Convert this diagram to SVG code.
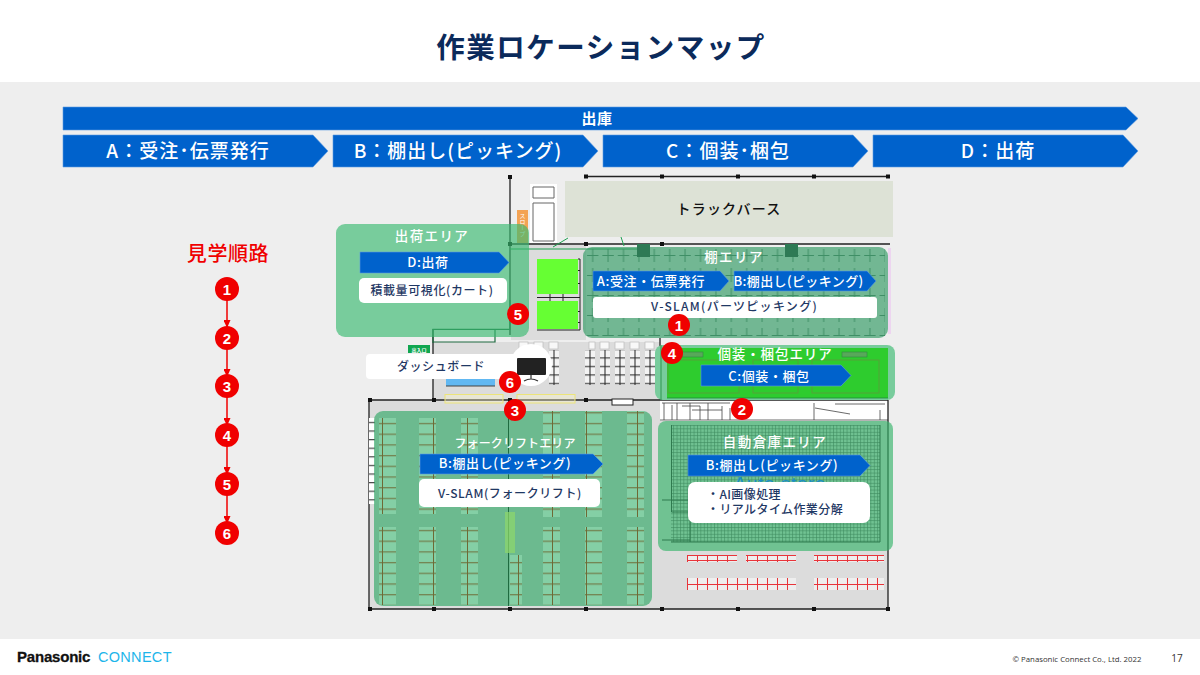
<svg xmlns="http://www.w3.org/2000/svg" width="1200" height="675" viewBox="0 0 1200 675">
<style>
text{font-family:"Noto Sans CJK JP","Noto Sans",sans-serif;text-anchor:middle}
.arrow{fill:#0062cc;stroke:#5d9be0;stroke-width:.6}
.h1{fill:#fff;font-size:19px;font-weight:500;letter-spacing:1px}
.h2{fill:#fff;font-size:13px;font-weight:500;letter-spacing:.6px}
.area{fill:#fff;font-size:13.5px;font-weight:500;letter-spacing:1.4px}
.note{fill:#1f3864;font-size:12px;font-weight:500;letter-spacing:.6px}
.card{fill:#fff}
.panel{fill:#39ba70;fill-opacity:.65}
.wall{fill:none;stroke:#222;stroke-width:1.3}
.post{fill:#111}
.badge{fill:#f00000}
.bnum{fill:#fff;font-family:"Liberation Sans",sans-serif;font-size:15px;font-weight:700}
.route{stroke:#f00000;stroke-width:1.5;fill:none;marker-end:url(#tip)}
</style>
<defs>
<marker id="tip" markerWidth="8" markerHeight="7" refX="7" refY="3.5" orient="auto" markerUnits="userSpaceOnUse"><path d="M0 0L8 3.5L0 7Z" fill="#f00000"/></marker>
<pattern id="rung" width="17" height="10.7" patternUnits="userSpaceOnUse" y="418"><rect width="17" height="10.7" fill="#84cfa5"/><path d="M0 5.500H17M8.500 0V10.700" stroke="#6e6a35" stroke-width="1"/></pattern>
<pattern id="cross" width="15.4" height="20" patternUnits="userSpaceOnUse" x="585" y="245"><path d="M2 10.500H13.400M7.700 3V17" stroke="#3f8f66" stroke-width="1"/></pattern>
<pattern id="mesh" width="3.4" height="3.4" patternUnits="userSpaceOnUse"><path d="M0 .5H3.400M.5 0V3.400" stroke="#3d8a5e" stroke-width=".6"/></pattern>
<pattern id="rack" width="10" height="8.5" patternUnits="userSpaceOnUse" y="345"><rect width="10" height="8.5" fill="#f4f4f4"/><path d="M0 4.500H10" stroke="#222" stroke-width="1"/></pattern>
<pattern id="whiterack" width="6" height="8.6" patternUnits="userSpaceOnUse" y="418"><rect width="6" height="8.6" fill="#fff"/><path d="M0 4.500H6" stroke="#222" stroke-width="1"/></pattern>
<pattern id="redrack" width="10" height="12" patternUnits="userSpaceOnUse" x="687" y="578"><rect width="10" height="12" fill="#eeeeee"/><path d="M.5 0V12M0 6.500H10" stroke="#e8343a" stroke-width="1"/></pattern>
</defs>

<!-- page -->
<rect width="1200" height="675" fill="#fff"/>
<rect y="82" width="1200" height="557" fill="#eeeeee"/>
<text x="601" y="58" font-size="28.500" font-weight="700" fill="#0b2a5b" letter-spacing="1.500">作業ロケーションマップ</text>

<!-- process banners -->
<g id="banner-outbound"><path class="arrow" d="M63 107H1126L1138 118.500L1126 130H63Z"/><text class="h2" x="597" y="124" style="font-size:15px;font-weight:700">出庫</text></g>
<g id="banner-a"><path class="arrow" d="M63 135H313L328 151L313 167H63Z"/><text class="h1" x="188" y="158">A：受注･伝票発行</text></g>
<g id="banner-b"><path class="arrow" d="M333 135H583L598 151L583 167H333Z"/><text class="h1" x="458" y="158">B：棚出し(ピッキング)</text></g>
<g id="banner-c"><path class="arrow" d="M603 135H853L868 151L853 167H603Z"/><text class="h1" x="728" y="158">C：個装･梱包</text></g>
<g id="banner-d"><path class="arrow" d="M873 135H1123L1138 151L1123 167H873Z"/><text class="h1" x="998" y="158">D：出荷</text></g>

<!-- floor plan base -->
<g id="floor">
<rect x="511" y="245" width="75" height="95" fill="#dcdcdc"/>
<rect x="433" y="342" width="227" height="58" fill="#dcdcdc"/>
<rect x="369" y="400" width="519" height="209" fill="#dcdcdc"/>
<rect x="660" y="400" width="228" height="21" fill="#fff"/>
<path d="M662 403H730M664 403V420M672 405V420M677 403V420M682 406H700V420M690 403V420M692 410H722M708 403V420M722 406V420M730 408V420M815 408L850 414M835 404H885M814 403V420M880 410V420M660 420H888" fill="none" stroke="#444" stroke-width=".8"/>
<rect x="565" y="181" width="328" height="56" fill="#dde2d6"/>
<rect x="530" y="184" width="27" height="59" fill="#fff"/>
<path d="M533 187H554V198H533ZM533 203H554V241H533Z" fill="#fff" stroke="#666" stroke-width="1"/>
<rect x="517" y="210" width="11" height="33" fill="#f3a354"/>
<text x="522.500" y="213" style="writing-mode:vertical-rl;font-size:6px;text-anchor:start" fill="#fff">スロープ</text>
<path class="wall" d="M510 177V335M586 176.500H890M510 244H890M433 329V399M369 400V609H888V400M369 400H660M660 400H888M660 338V400"/>
<path d="M433 343V329.300H510V300M433 342H495V329" fill="none" stroke="#1f6b40" stroke-width="1.200"/>
<path d="M510 249H640M568 238L553 247M621 237L624 246" stroke="#1fa050" stroke-width="1" fill="none"/>
<g class="post"><rect x="508" y="175" width="4" height="4"/><rect x="584" y="174.500" width="4" height="4"/><rect x="660" y="174.500" width="4" height="4"/><rect x="736" y="174.500" width="4" height="4"/><rect x="812" y="174.500" width="4" height="4"/><rect x="886" y="174.500" width="4" height="4"/><rect x="508" y="242" width="4" height="4"/><rect x="584" y="242" width="4" height="4"/><rect x="660" y="242" width="4" height="4"/><rect x="368" y="398" width="4" height="4"/><rect x="432" y="398" width="4" height="4"/><rect x="508" y="398" width="4" height="4"/><rect x="584" y="398" width="4" height="4"/><rect x="368" y="607" width="4" height="4"/><rect x="432" y="607" width="4" height="4"/><rect x="508" y="607" width="4" height="4"/><rect x="584" y="607" width="4" height="4"/><rect x="660" y="607" width="4" height="4"/><rect x="736" y="607" width="4" height="4"/><rect x="812" y="607" width="4" height="4"/><rect x="886" y="607" width="4" height="4"/></g>
<rect x="537" y="259" width="41" height="35" fill="#66ff33"/><rect x="537" y="301" width="41" height="28" fill="#66ff33"/>
<path d="M578 259H580V330H537M537 297.500H580M578 270.500H580M578 283.500H580M578 311.500H580M578 322.500H580M550 294V301M563 294V301" fill="none" stroke="#222" stroke-width="1"/>
<rect x="408" y="345" width="22" height="8" fill="#10a650"/><text x="419" y="351.500" style="font-size:5px" fill="#fff" font-weight="700">出入口</text>
<rect x="446" y="378" width="49" height="8" fill="#61b8f2"/><path d="M446 386H495" stroke="#444"/>
<g fill="#fff8c8" fill-opacity=".35" stroke="#ece47a" stroke-width="1"><rect x="445" y="394.500" width="58" height="8.500"/><rect x="517" y="394.500" width="58" height="8.500"/></g>
<rect x="612" y="399" width="21" height="6" fill="#fff" stroke="#222"/>
<g id="racks">
<rect x="549" y="350" width="10" height="35" fill="url(#rack)"/><rect x="585" y="350" width="10" height="35" fill="url(#rack)"/><rect x="600" y="350" width="10" height="35" fill="url(#rack)"/><rect x="615" y="350" width="10" height="35" fill="url(#rack)"/><rect x="630" y="350" width="10" height="35" fill="url(#rack)"/><rect x="645" y="350" width="10" height="35" fill="url(#rack)"/>
<path d="M554 350V385M590 350V385M605 350V385M620 350V385M635 350V385M650 350V385" stroke="#222"/>
<g fill="#f8f8f8" stroke="#bbb" stroke-width=".7"><rect x="519" y="342" width="9" height="7"/><rect x="534" y="342" width="9" height="7"/><rect x="549" y="342" width="9" height="7"/><rect x="589" y="342" width="6" height="7"/><rect x="600" y="342" width="9" height="7"/><rect x="615" y="342" width="9" height="7"/><rect x="630" y="342" width="9" height="7"/><rect x="645" y="342" width="9" height="7"/></g>
</g>
<g id="red-racks">
<rect x="687" y="555" width="50" height="7" fill="url(#redrack)"/><rect x="746" y="555" width="50" height="7" fill="url(#redrack)"/><rect x="814" y="555" width="70" height="7" fill="url(#redrack)"/>
<rect x="687" y="578" width="109" height="12" fill="url(#redrack)"/><rect x="814" y="578" width="70" height="12" fill="url(#redrack)"/>
<path d="M687 555.500H737M746 555.500H796M814 555.500H884" stroke="#e8343a"/>
</g>
<rect x="369" y="418" width="6" height="86" fill="url(#whiterack)"/>
</g>

<!-- work areas -->
<g id="area-shipping">
<rect class="panel" x="336" y="224" width="193" height="113" rx="9"/>
<path class="arrow" d="M360 252H499L509 262.500L499 273H360Z"/>
<text class="area" x="432" y="241">出荷エリア</text>
<text class="h2" x="428" y="267">D:出荷</text>
<rect class="card" x="359" y="278" width="148" height="25" rx="5"/>
<text class="note" x="432" y="295">積載量可視化(カート)</text>
</g>
<g id="area-shelves">
<rect x="888" y="248" width="3" height="86" fill="#edd5f0"/>
<rect class="panel" x="583" y="247" width="305" height="91" rx="9" style="fill:#2f9a62"/>
<rect x="586" y="249" width="299" height="87" fill="url(#cross)"/>
<rect x="637" y="244" width="13" height="13" fill="#2e7a55"/><rect x="785" y="244" width="13" height="13" fill="#2e7a55"/>
<text class="area" x="734" y="262">棚エリア</text>
<path class="arrow" d="M593 271H720L729 281L720 291H593Z"/>
<text class="h2" x="651" y="286">A:受注・伝票発行</text>
<path class="arrow" d="M734 271H867L876 281L867 291H734Z"/>
<text class="h2" x="798.500" y="286" style="letter-spacing:.4px">B:棚出し(ピッキング)</text>
<rect class="card" x="593" y="297" width="284" height="21" rx="3"/>
<text class="note" x="734.500" y="311" style="letter-spacing:1.300px">V-SLAM(パーツピッキング)</text>
</g>
<g id="area-packing">
<rect x="655" y="345" width="240" height="55" rx="8" fill="#78cc9c"/>
<rect x="667" y="348" width="221" height="50" fill="#2ecc2e"/>
<path d="M667 398H888M661 345V400" stroke="#1d8a3a" stroke-width=".8" fill="none"/>
<g fill="none" stroke="#5f9a3c" stroke-width=".8"><rect x="668" y="360" width="71" height="33"/><rect x="753" y="360" width="45" height="33"/><rect x="812" y="360" width="67" height="33"/></g>
<g fill="#58a85a" stroke="#2f8a3e" stroke-width=".6"><rect x="682" y="352" width="21" height="5"/><rect x="842" y="352" width="25" height="5"/></g>
<text class="area" x="775" y="359" style="letter-spacing:.9px">個装・梱包エリア</text>
<path class="arrow" d="M701 365H841L851 375.500L841 386H701Z"/>
<text class="h2" x="769" y="381">C:個装・梱包</text>
</g>
<g id="area-autostore">
<rect class="panel" x="658" y="421" width="235" height="130" rx="8" style="fill:#35b46a"/>
<rect x="671" y="425" width="209" height="117" fill="url(#mesh)"/>
<path d="M671.500 425V512H690V542M880 425V542H671M662 500H690M662 540H690" fill="none" stroke="#2f7a4f" stroke-width="1"/>
<text class="area" x="775" y="447">自動倉庫エリア</text>
<text x="780" y="490" font-size="19" font-weight="500" fill="#1c8fc4" style="font-family:'Liberation Sans',sans-serif" letter-spacing=".6">Auto store</text>
<path class="arrow" d="M688 455H860L870 465.500L860 476H688Z"/>
<text class="h2" x="772" y="470">B:棚出し(ピッキング)</text>
<rect class="card" x="688" y="482" width="182" height="41" rx="7"/>
<text class="note" x="707" y="499" style="text-anchor:start;letter-spacing:.4px">・AI画像処理</text>
<text class="note" x="707" y="514" style="text-anchor:start;letter-spacing:.4px">・リアルタイム作業分解</text>
</g>
<g id="area-forklift">
<rect class="panel" x="374" y="411" width="278" height="195" rx="9" style="fill:#30a866"/>
<g fill="url(#rung)">
<rect x="379" y="418" width="17" height="96"/><rect x="419" y="418" width="17" height="96"/><rect x="461" y="418" width="17" height="96"/><rect x="543" y="411" width="17" height="106"/><rect x="585" y="411" width="17" height="106"/><rect x="627" y="411" width="17" height="106"/>
<rect x="379" y="527" width="17" height="78"/><rect x="419" y="527" width="17" height="78"/><rect x="461" y="527" width="17" height="78"/><rect x="510" y="555" width="12" height="50"/><rect x="543" y="527" width="17" height="78"/><rect x="585" y="527" width="17" height="78"/><rect x="627" y="527" width="17" height="78"/>
</g>
<path d="M508.500 411V606" stroke="#1f6b40" stroke-width="1"/>
<rect x="505" y="512" width="10" height="41" fill="#8ed86a" fill-opacity=".7"/>
<text class="area" x="515" y="448" style="font-size:12px;letter-spacing:.1px">フォークリフトエリア</text>
<path class="arrow" d="M420 454H593L603 464L593 474H420Z"/>
<text class="h2" x="505" y="468">B:棚出し(ピッキング)</text>
<rect class="card" x="419" y="479" width="181" height="28" rx="5"/>
<text class="note" x="510" y="498">V-SLAM(フォークリフト)</text>
</g>
<g id="truck-berth"><text x="729" y="214" font-size="14" font-weight="500" fill="#111" letter-spacing="1.200">トラックバース</text></g>
<g id="dashboard">
<rect class="card" x="366" y="354" width="160" height="25" rx="4"/>
<text class="note" x="441" y="371">ダッシュボード</text>
<circle cx="531" cy="365" r="21" fill="#fff"/>
<rect x="517" y="358" width="29" height="17" rx="1" fill="#222"/>
<path d="M531 375V379M524 381Q531 377 538 381" stroke="#333" stroke-width="1.200" fill="none"/>
</g>

<!-- numbered stops on the plan -->
<g id="stop-1"><circle class="badge" cx="679" cy="325" r="11"/><text class="bnum" x="679" y="330.500">1</text></g>
<g id="stop-2"><circle class="badge" cx="742" cy="409" r="11"/><text class="bnum" x="742" y="414.500">2</text></g>
<g id="stop-3"><circle class="badge" cx="515" cy="410" r="11"/><text class="bnum" x="515" y="415.500">3</text></g>
<g id="stop-4"><circle class="badge" cx="672" cy="353" r="11"/><text class="bnum" x="672" y="358.500">4</text></g>
<g id="stop-5"><circle class="badge" cx="518" cy="314" r="11"/><text class="bnum" x="518" y="319.500">5</text></g>
<g id="stop-6"><circle class="badge" cx="510" cy="382" r="11"/><text class="bnum" x="510" y="387.500">6</text></g>

<!-- tour order legend -->
<text x="228" y="261" font-size="20" font-weight="500" fill="#f00000" letter-spacing=".6">見学順路</text>
<g id="connectors">
<path class="route" d="M227 299V327"/><path class="route" d="M227 348V376"/><path class="route" d="M227 396V425"/><path class="route" d="M227 445V474"/><path class="route" d="M227 494V523"/>
</g>
<g id="order-1"><circle class="badge" cx="227" cy="289" r="12"/><text class="bnum" x="227" y="294.500">1</text></g>
<g id="order-2"><circle class="badge" cx="227" cy="338" r="12"/><text class="bnum" x="227" y="343.500">2</text></g>
<g id="order-3"><circle class="badge" cx="227" cy="386" r="12"/><text class="bnum" x="227" y="391.500">3</text></g>
<g id="order-4"><circle class="badge" cx="227" cy="435" r="12"/><text class="bnum" x="227" y="440.500">4</text></g>
<g id="order-5"><circle class="badge" cx="227" cy="484" r="12"/><text class="bnum" x="227" y="489.500">5</text></g>
<g id="order-6"><circle class="badge" cx="227" cy="533" r="12"/><text class="bnum" x="227" y="538.500">6</text></g>

<!-- footer -->
<text x="17" y="662" style="text-anchor:start;font-family:'Liberation Sans',sans-serif;font-size:15px;font-weight:700;letter-spacing:-.2px" fill="#111" stroke="#111" stroke-width=".3">Panasonic</text>
<text x="98" y="662" style="text-anchor:start;font-family:'Liberation Sans',sans-serif;font-size:14.500px;letter-spacing:.3px" fill="#1db5ea">CONNECT</text>
<text x="1077" y="662" style="font-family:'Open Sans',sans-serif;font-size:7.800px" fill="#333">© Panasonic Connect Co., Ltd. 2022</text>
<text x="1177" y="662" style="font-family:'Open Sans',sans-serif;font-size:10px" fill="#333">17</text>
</svg>
